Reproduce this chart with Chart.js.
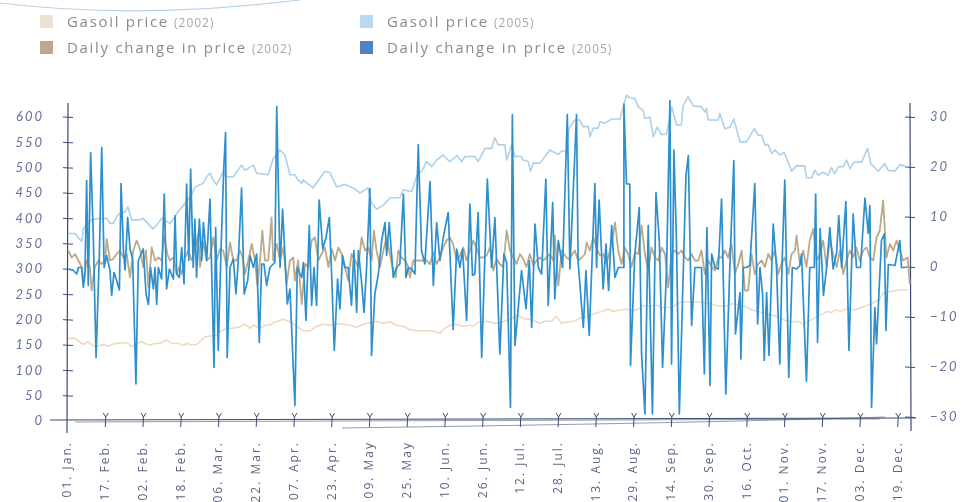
<!DOCTYPE html>
<html>
<head>
<meta charset="utf-8">
<script src="https://cdn.jsdelivr.net/npm/chart.js@4.4.1/dist/chart.umd.min.js"></script>
<style>
  body { margin: 0; background: #fff; }
  #wrap { position: relative; width: 973px; height: 502px; }
  #chart { position: absolute; left: 0; top: 0; }
  .leg { position: absolute; font-family: "Open Sans", sans-serif; font-size: 15px; color: #8b8b8b;
         letter-spacing: 1.7px; white-space: nowrap; line-height: 16px; }
  .leg i { display: inline-block; width: 13px; height: 13px; vertical-align: -1px; margin-right: 14px; }
  .leg small { font-size: 12px; color: #a8a8a8; letter-spacing: 1px; margin-left: 5px; }
</style>
</head>
<body>
<div id="wrap">
  <canvas id="chart" width="973" height="502"></canvas>
  <div class="leg" style="left:40px;top:13px"><i style="background:#ece2d2"></i>Gasoil price<small>(2002)</small></div>
  <div class="leg" style="left:40px;top:39px"><i style="background:#bba98b"></i>Daily change in price<small>(2002)</small></div>
  <div class="leg" style="left:360px;top:13px"><i style="background:#bcd8ee"></i>Gasoil price<small>(2005)</small></div>
  <div class="leg" style="left:360px;top:39px"><i style="background:#5282c2"></i>Daily change in price<small>(2005)</small></div>
</div>
<script>
// x axis: day of year, a label every 16 days
const tickLabels = ["01. Jan.","17. Feb.","02. Feb.","18. Feb.","06. Mar.","22. Mar.","07. Apr.","23. Apr.",
  "09. May","25. May","10. Jun.","26. Jun.","12. Jul.","28. Jul.","13. Aug.","29. Aug.","14. Sep.",
  "30. Sep.","16. Oct.","01. Nov.","17. Nov.","03. Dec.","19. Dec."];
const tickDays = tickLabels.map((_, i) => i * 16);
const priceTicks = [0,50,100,150,200,250,300,350,400,450,500,550,600];
const changeTicks = [-30,-20,-10,0,10,20,30];

// gasoil price 2002 (left axis)
const price02Days = [0.1,3.0,5.1,6.5,8.6,10.0,12.2,15.0,17.1,18.5,20.6,23.5,25.6,27.0,29.1,31.2,32.6,34.8,36.9,39.0,
  41.8,43.9,46.8,48.9,50.3,52.4,54.5,56.7,58.1,60.9,63.0,64.4,67.3,70.1,72.9,75.0,77.2,78.6,81.4,83.5,85.6,87.7,
  88.5,91.3,94.1,96.9,99.8,102.6,105.4,108.2,111.1,113.9,116.7,119.5,122.4,125.2,128.0,130.9,133.7,136.5,139.3,142.2,
  145.0,147.8,150.6,153.5,156.3,157.7,159.8,161.9,164.8,167.6,170.4,171.8,173.9,176.8,
  177.5,181.0,183.8,186.0,188.8,190.9,193.7,195.8,198.0,200.1,202.2,205.0,207.1,209.3,212.1,214.9,217.0,219.2,221.3,
  223.4,226.2,229.1,231.2,234.0,236.8,239.6,241.8,243.9,246.7,249.5,251.7,254.5,256.6,259.4,262.2,265.0,
  268.6,271.5,274.3,277.1,279.9,282.0,284.2,287.0,289.8,292.6,295.5,298.3,301.1,303.9,306.8,309.6,311.7,313.8,316.7,
  319.5,321.6,323.7,325.1,328.0,330.8,333.6,336.5,339.3,342.1,344.2,345.6,347.8,350.6,353.4,356.2];
const price02 = [163,163,155,151,157,150,147,151,147,151,153,155,153,147,153,157,153,150,153,153,
  160,153,153,149,153,150,151,160,166,168,170,176,183,183,186,191,183,189,183,189,189,196,
  196,201,196,187,178,178,187,191,189,192,191,189,185,191,194,197,193,196,189,187,
  180,178,178,178,176,173,183,189,191,187,189,187,195,196,
  197,193,195,199,204,208,201,201,197,193,197,197,206,193,196,197,203,204,209,
  212,216,221,216,219,221,217,221,228,226,229,224,224,226,234,235,235,
  235,232,229,226,228,232,229,226,219,216,212,209,206,199,196,197,191,196,204,
  210,216,214,219,217,222,219,224,229,235,241,252,255,257,259,259];

// gasoil price 2005 (left axis)
const price05Days = [0.1,3.0,5.8,6.5,10.0,13.6,16.4,17.8,19.1,21.2,24.2,25.4,27.0,30.5,31.8,33.9,36.0,38.2,39.7,43.2,
  45.4,46.6,50.3,52.4,53.8,57.2,58.8,60.2,61.5,63.0,65.8,67.3,70.1,73.6,75.0,78.6,80.0,84.9,87.0,87.7,
  89.9,92.0,94.1,96.2,97.5,99.1,99.7,101.2,103.9,108.9,111.1,113.9,117.4,120.9,123.8,127.2,128.7,130.9,133.7,136.5,
  140.7,142.1,145.7,148.5,149.9,152.1,154.2,156.3,159.1,160.5,161.9,164.8,166.9,168.3,172.5,173.9,176.8,179.6,181.0,182.4,
  185.2,186.0,188.1,189.5,192.3,193.0,195.1,196.1,197.2,200.1,204.3,207.8,209.3,211.4,212.5,214.9,217.0,218.4,220.6,221.3,
  222.7,224.8,225.5,227.6,230.5,234.0,236.8,238.2,240.4,241.8,243.9,244.6,246.7,248.2,249.8,251.7,253.8,256.0,258.0,260.1,
  260.8,262.9,265.1,268.6,270.0,270.7,271.4,275.7,276.4,278.5,280.6,282.3,284.9,287.7,291.0,292.6,294.1,295.5,296.9,298.3,
  299.7,301.8,303.6,304.7,306.8,308.9,312.4,313.1,315.3,316.6,318.1,320.2,322.3,323.7,325.1,326.6,328.7,330.1,331.6,333.3,
  336.5,339.0,340.4,343.5,346.3,347.7,350.6,352.7,355.5];
const price05 = [370,370,354,380,397,400,400,390,390,407,413,423,397,397,400,390,379,390,400,390,
  403,413,433,446,462,469,482,489,476,466,492,482,482,505,495,505,489,486,518,522,
  535,525,486,486,476,469,476,470,460,493,490,462,467,460,450,460,430,418,426,440,
  441,456,453,492,492,512,502,515,525,518,512,524,512,522,522,512,538,538,559,545,
  545,515,545,522,522,515,512,493,509,509,535,526,533,533,578,594,594,581,581,561,
  578,578,590,588,596,596,643,638,636,620,613,597,600,561,580,565,567,620,584,585,
  622,640,622,620,610,617,594,594,607,577,580,596,551,551,577,564,564,545,545,528,
  535,525,530,518,493,504,503,480,480,495,485,491,485,500,488,502,502,515,498,511,
  511,538,508,493,508,495,493,506,502];

// daily change 2002 (right axis)
const chg02Days = [0.1,1.6,3.0,4.4,5.8,6.5,7.9,9.3,10.0,11.4,12.9,14.3,15.7,16.4,17.8,19.2,20.6,22.0,23.5,24.9,
  26.3,27.7,29.1,30.5,31.9,33.1,34.1,35.5,36.9,38.3,39.7,40.8,42.1,43.2,44.7,46.1,47.2,48.2,49.6,51.0,
  52.4,53.8,55.2,56.0,57.4,58.8,60.2,61.6,63.0,64.4,65.8,67.3,68.7,70.1,71.5,72.9,74.0,75.0,76.4,77.9,
  79.3,80.3,81.4,82.4,83.5,84.9,86.3,
  87.0,88.5,89.9,91.3,92.7,94.1,95.5,96.2,97.6,99.1,100.5,101.9,103.3,104.7,106.1,107.5,108.9,110.4,111.8,113.2,
  114.6,116.0,117.4,118.8,120.2,121.7,123.1,124.5,125.9,127.3,128.7,129.7,130.8,132.3,133.7,135.1,136.5,137.6,139.0,140.0,
  141.4,142.9,144.3,145.0,146.4,150.6,152.0,153.5,154.9,156.3,157.7,159.1,160.5,161.9,163.3,164.8,166.2,167.6,169.0,170.4,
  171.8,173.2,174.6,
  176.1,177.5,178.9,180.3,181.7,183.1,184.5,186.0,187.4,188.8,190.2,191.6,193.0,194.4,195.8,197.3,198.7,200.1,201.5,202.9,
  204.3,205.7,206.4,207.9,209.3,210.7,212.1,213.5,214.9,216.3,217.8,219.2,219.9,221.3,222.7,224.1,225.5,226.9,228.3,229.8,
  231.2,231.9,233.3,234.7,236.1,237.5,238.9,240.4,241.8,243.2,244.6,246.0,247.4,248.8,250.3,251.7,253.1,254.5,255.9,257.3,
  258.7,260.1,261.6,263.0,264.4,265.8,
  267.2,268.6,270.0,271.5,272.9,274.3,275.7,277.1,278.5,279.9,281.3,282.8,284.2,285.6,287.0,288.4,289.8,291.2,292.6,294.1,
  295.5,296.9,298.3,299.7,301.1,302.5,303.9,305.4,306.8,308.2,308.9,310.3,311.7,313.1,314.5,316.0,317.4,318.8,320.2,321.6,
  323.0,324.4,325.9,327.3,328.7,330.1,331.5,332.9,334.3,335.7,337.2,338.6,340.0,341.4,342.8,344.2,345.6,347.0,348.5,349.9,
  351.3,352.7,354.1,356.0,356.9];
const chg02 = [3.3,1.9,2.6,1.3,0,-3.1,1.3,0,-4.7,0,1.3,0.6,1.3,5.6,1.3,1.6,2.6,3.3,1.9,2.6,
  -2.1,3.3,5.3,3.6,0,3.3,-4.1,3.9,1.3,1.9,1.3,6.3,2.6,1.3,1.9,-1.4,0,-1.4,1.9,3.3,
  1.3,3.3,6.6,0,4.9,1.3,1.9,5.9,1.3,3.6,3.3,0,4.9,1.3,1.3,3.3,1.9,-1.4,1.3,4.6,
  1.3,-3.7,1.3,7.3,1.3,1.3,9.9,
  1.3,4.6,1.3,3.9,-3.4,1.3,1.9,-2.7,1.3,-7.4,0.6,0,5.3,5.9,1.3,2.6,3.9,0,3.6,1.3,
  3.9,2.6,0,-2.7,2.6,1.3,0,5.9,3.3,3.9,1.3,7.3,3.3,0,3.3,5.9,2.6,0,-2.1,3.3,
  1.9,1.3,0,-2.1,1.3,1.3,1.3,0.6,2.9,0.6,1.9,3.9,5.3,5.9,4.6,1.3,2.3,3.9,1.3,3.3,
  5.3,3.9,1.9,
  1.9,2.3,3.9,-0.7,1.6,0.6,0,7.3,3.3,1.9,0.6,2.6,1.6,0,2.6,0.3,1.3,1.9,1.3,1.9,
  2.6,1.3,6.3,-3.7,3.3,2.3,1.6,2.3,3.3,1.3,1.9,2.6,4.9,3.3,5.9,3.9,2.3,2.6,0.6,3.3,
  6.6,8.9,3.3,0.6,3.9,2.6,0,2.9,2.6,8.3,2.6,-0.7,3.9,1.9,1.3,3.9,2.6,-4.1,2.6,3.3,
  2.6,3.3,1.9,1.3,2.6,1.3,
  1.3,3.3,-1.4,1.3,0,-0.7,1.9,1.9,3.3,1.9,4.6,-1.4,0.6,3.3,-4.7,-4.7,2.6,-1.4,0.6,1.3,
  0,2.6,1.3,3.3,-1.4,0.6,1.9,-1.4,2.6,3.3,6.3,0.6,3.3,0,5.3,7.6,1.3,2.6,5.3,0,
  5.3,2.6,0,3.3,-1.4,1.3,3.3,1.9,3.9,1.3,3.3,3.9,1.9,1.3,5.9,7.3,13.3,1.9,4.6,3.3,
  5.3,3.3,1.3,1.9,-3.4];

// daily change 2005 (right axis)
const chg05Days = [0.1,2.3,3.7,4.4,5.8,6.5,7.2,7.9,8.6,9.6,10.7,11.9,13.3,14.3,15.3,16.4,17.8,18.5,19.5,20.6,
  21.8,22.5,23.5,24.2,25.3,26.3,27.4,28.8,29.8,31.9,33.1,34.1,35.0,36.2,36.9,37.6,38.3,39.7,40.8,41.8,
  43.0,44.7,45.4,46.1,47.2,48.2,49.2,50.3,51.2,52.0,53.1,53.8,54.5,55.7,56.7,57.4,58.8,60.2,61.9,62.6,
  63.7,64.9,66.1,66.8,67.5,68.7,70.1,71.2,72.2,73.6,74.7,76.2,77.2,78.6,80.0,81.1,82.1,83.1,84.2,85.6,
  87.7,
  88.5,89.9,91.0,92.0,93.0,94.1,96.2,97.2,99.1,99.8,100.9,102.3,103.3,104.3,105.4,106.5,108.0,109.4,110.8,111.8,
  112.9,114.3,115.3,116.4,117.4,118.8,120.2,121.2,122.4,123.1,124.5,125.5,126.6,128.0,128.7,130.1,131.6,133.0,134.4,135.1,
  136.2,137.9,139.3,140.7,142.2,143.3,144.3,145.7,147.1,148.5,149.9,151.3,153.5,154.9,156.3,157.7,159.1,161.2,163.3,164.8,
  166.2,167.3,169.0,170.4,171.5,172.5,173.9,175.4,
  177.8,179.6,181.0,183.1,184.8,186.0,187.6,188.4,189.5,192.3,194.2,195.6,196.6,198.0,199.4,200.8,202.6,203.6,205.5,206.4,
  207.9,209.7,211.7,212.8,215.6,216.3,218.5,219.6,221.0,223.4,224.1,225.2,226.9,228.1,229.2,230.5,231.9,233.3,235.4,235.7,
  236.8,238.2,238.5,240.3,242.2,243.2,244.6,246.0,247.8,249.3,250.7,252.1,253.8,255.2,255.9,256.9,258.0,259.2,262.0,263.0,
  264.4,265.8,
  268.6,269.8,270.9,272.2,272.9,274.3,275.7,277.1,278.9,280.6,282.3,283.0,284.9,285.3,286.3,287.7,289.1,291.2,292.4,293.4,
  294.5,295.2,296.2,297.2,299.0,300.4,301.8,302.8,303.9,305.6,307.1,308.9,310.3,311.0,313.1,314.5,316.4,317.0,317.8,318.9,
  320.3,321.6,323.0,324.4,325.9,326.8,328.0,329.8,331.1,332.9,334.3,336.0,337.9,339.3,340.0,340.7,342.1,342.8,344.9,346.1,
  346.8,347.8,350.6,352.7,353.4,355.0];
const chg05 = [-0.4,-0.7,-1.4,-0.1,-0.1,-4.1,-1.4,17.3,-3.7,22.9,6.6,-18.1,2.6,23.9,-0.1,2.3,-0.7,-5.7,-1.1,-2.7,
  -4.6,16.7,3.3,-0.6,9.9,3.6,1.6,-23.4,1.3,3.6,-5.4,-7.5,-0.1,-4.4,-0.1,-7.5,-0.1,-2.4,14.6,-4.4,
  -0.4,-2.4,10.3,-1.4,-2.1,3.9,-3.4,16.6,1.3,19.6,-0.1,9.6,-2.1,9.6,1.3,8.9,1.3,13.6,-20.1,7.9,
  -16.7,3.9,20.3,26.9,-18.1,-0.1,1.6,-5.4,1.3,15.8,-5.4,-2.7,2.3,-0.1,2.6,-15.1,0.6,0.6,-3.7,-0.1,
  0.9,
  32.1,-0.1,11.6,1.9,-7.4,-4.4,-27.7,-0.1,-2.1,0.9,-10.7,8.3,-7.7,-0.1,-7.7,13.4,3.6,5.9,9.9,-1.7,
  -16.7,-2.4,-8.4,2.3,-0.1,-0.1,-7.7,3.3,-9.1,3.3,-3.1,-9.1,-0.1,15.7,-17.7,-5.4,-1.4,5.3,8.9,2.3,
  8.9,-2.1,-0.1,0.6,14.6,-2.1,-0.1,-0.4,-1.4,24.5,3.3,0.6,17.1,-3.7,8.9,1.3,5.9,10.9,-12.5,3.6,
  -0.1,3.6,-10.7,12.6,-1.7,-1.4,10.9,-18.1,
  17.6,-0.1,9.9,-17.4,2.6,0.9,-28.1,30.5,-15.7,-0.7,-8.4,1.3,-12.1,8.6,-0.1,-1.4,17.6,-7.7,12.9,-6.4,
  5.3,-0.1,30.5,-0.4,30.5,0.9,-12.1,-0.7,-13.7,16.7,-0.1,13.4,-4.4,4.6,-4.7,8.3,-2.1,-0.1,-0.1,32.6,
  16.6,16.6,-19.7,2.3,11.9,-17.4,-29.4,8.3,-29.4,14.9,5.3,-20.1,-0.1,33.3,-19.4,23.4,4.9,-29.4,18.3,22.3,
  -11.7,-0.1,
  -0.1,-21.4,7.9,-23.7,2.6,-0.1,-0.4,13.6,-25.4,-0.1,21.3,-13.4,-5.1,-18.4,-0.1,-0.1,0.3,16.7,-11.4,-0.1,
  -5.4,-18.7,-5.1,-17.7,8.6,-0.1,-19.4,1.3,17.4,-22.1,-0.1,-0.4,0.3,2.6,-22.9,-0.1,-0.1,14.6,-15.1,7.7,
  -5.7,-0.4,7.9,-0.4,2.9,10.3,-0.1,13.1,-16.7,10.6,-0.1,-0.1,13.8,6.7,12.3,-28.1,-8.1,-15.4,5.3,6.6,
  -12.7,0.5,0.3,5.3,-0.1,-0.1];

function pts(days, vals) {
  const n = Math.min(days.length, vals.length);
  const out = [];
  for (let i = 0; i < n; i++) out.push({x: days[i], y: vals[i]});
  return out;
}

const axisColor = '#3d4b72';

// hand drawn looking axes, ticks and the swoosh at the top
const sketchAxes = {
  id: 'sketchAxes',
  beforeDraw(chart) {
    chart.ctx.letterSpacing = '2px';
  },
  afterDraw(chart) {
    chart.ctx.letterSpacing = '0px';
  },
  beforeDatasetsDraw(chart) {
    const ctx = chart.ctx;
    const xs = chart.scales.x, yl = chart.scales.yL, yr = chart.scales.yR;
    const a = chart.chartArea;
    ctx.save();
    ctx.strokeStyle = '#b7d1e9';
    ctx.lineWidth = 1.2;
    ctx.beginPath();
    ctx.moveTo(0, 3);
    ctx.quadraticCurveTo(140, 20, 300, 0);
    ctx.stroke();

    ctx.strokeStyle = axisColor;
    ctx.lineWidth = 1.2;
    ctx.beginPath();
    ctx.moveTo(a.left, 103); ctx.lineTo(a.left - 1, a.bottom + 12);
    ctx.moveTo(a.right, 103); ctx.lineTo(a.right + 1, a.bottom + 10);
    ctx.moveTo(50, a.bottom - 1); ctx.lineTo(a.right + 6, a.bottom - 3);
    ctx.stroke();
    ctx.lineWidth = 0.8;
    ctx.globalAlpha = 0.7;
    ctx.beginPath();
    ctx.moveTo(75, a.bottom + 1); ctx.lineTo(880, a.bottom - 2);
    ctx.moveTo(342, a.bottom + 7); ctx.quadraticCurveTo(700, a.bottom + 2, 885, a.bottom - 4);
    ctx.stroke();
    ctx.globalAlpha = 1;
    ctx.lineWidth = 1;
    ctx.beginPath();
    priceTicks.forEach(v => {
      const y = yl.getPixelForValue(v);
      if (v > 0) { ctx.moveTo(a.left - 5, y); ctx.lineTo(a.left + 5, y + 0.5); }
    });
    changeTicks.forEach(v => {
      const y = yr.getPixelForValue(v);
      ctx.moveTo(a.right - 5, y); ctx.lineTo(a.right + 5, y + 0.5);
    });
    tickDays.forEach((d, i) => {
      if (i === 0) return;
      const x = xs.getPixelForValue(d);
      ctx.moveTo(x - 2.5, a.bottom - 8); ctx.lineTo(x, a.bottom - 4); ctx.lineTo(x + 2.5, a.bottom - 8);
      ctx.moveTo(x, a.bottom - 4); ctx.lineTo(x - 0.5, a.bottom + 6);
    });
    ctx.stroke();
    ctx.restore();
  }
};

const tickFont = {family: 'Lato', size: 13, style: 'italic'};

new Chart(document.getElementById('chart'), {
  type: 'line',
  data: {
    datasets: [
      {label: 'Daily change in price (2005)', data: pts(chg05Days, chg05), yAxisID: 'yR',
       borderColor: '#2d90cc', borderWidth: 1.7, order: 0, clip: false},
      {label: 'Daily change in price (2002)', data: pts(chg02Days, chg02), yAxisID: 'yR',
       borderColor: '#bba98a', borderWidth: 1.8, order: 1, clip: false},
      {label: 'Gasoil price (2005)', data: pts(price05Days, price05), yAxisID: 'yL',
       borderColor: '#add0eb', borderWidth: 1.6, order: 2, clip: false},
      {label: 'Gasoil price (2002)', data: pts(price02Days, price02), yAxisID: 'yL',
       borderColor: '#edd9c4', borderWidth: 1.6, order: 3, clip: false}
    ]
  },
  options: {
    responsive: false,
    animation: false,
    devicePixelRatio: 1,
    layout: {padding: {top: 117, left: 0, right: 0, bottom: 0}},
    plugins: {legend: {display: false}, tooltip: {enabled: false}},
    elements: {point: {radius: 0}, line: {tension: 0, borderJoinStyle: 'round', fill: false}},
    scales: {
      x: {
        type: 'linear', min: 0, max: 357,
        afterBuildTicks: s => { s.ticks = tickDays.map(v => ({value: v})); },
        afterFit: s => { s.height = 81; },
        grid: {display: false, drawTicks: false}, border: {display: false},
        ticks: {autoSkip: false, minRotation: 90, maxRotation: 90, padding: 20, color: '#5a6683',
                font: {family: 'Open Sans', size: 12}, callback: (v, i) => tickLabels[i]}
      },
      yL: {
        position: 'left', min: 0, max: 600,
        afterBuildTicks: s => { s.ticks = priceTicks.map(v => ({value: v})); },
        afterFit: s => { s.width = 68; },
        grid: {display: false, drawTicks: false}, border: {display: false},
        ticks: {padding: 24, color: '#66729a', font: tickFont}
      },
      yR: {
        position: 'right', min: -30.8, max: 30,
        afterBuildTicks: s => { s.ticks = changeTicks.map(v => ({value: v})); },
        afterFit: s => { s.width = 63; },
        grid: {display: false, drawTicks: false}, border: {display: false},
        ticks: {padding: 20, color: '#66729a', font: tickFont,
                callback: v => v < 0 ? '\u2212' + Math.abs(v) : String(v)}
      }
    }
  },
  plugins: [sketchAxes]
});
</script>
</body>
</html>
